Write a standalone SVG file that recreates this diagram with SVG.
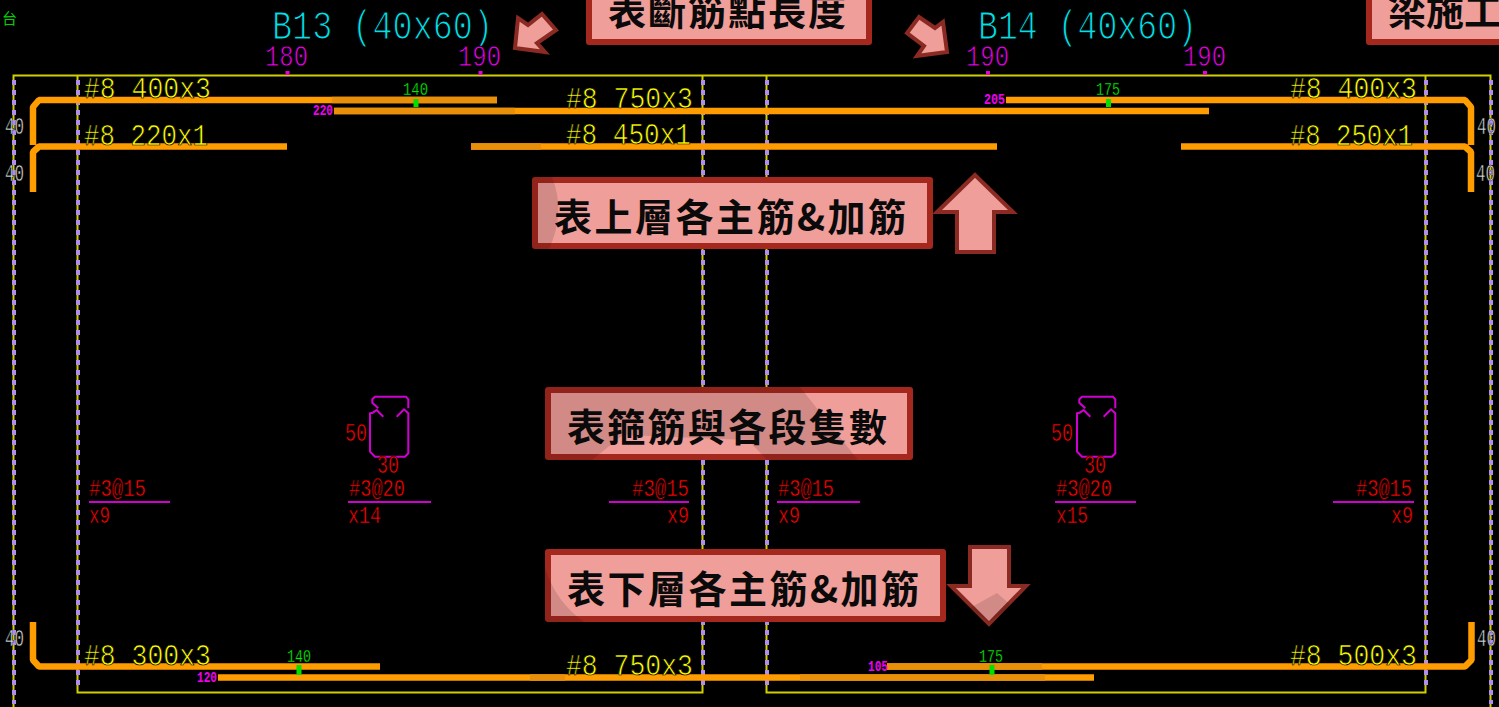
<svg xmlns="http://www.w3.org/2000/svg" width="1499" height="707" viewBox="0 0 1499 707">
<style>
text{font-family:"Liberation Mono","DejaVu Sans Mono",monospace}
.beam{font-size:41px;fill:#00e0e8;stroke:#000;stroke-width:1.200}
.span{font-size:30px;fill:#f000f0;stroke:#000;stroke-width:.8}
.bar{font-size:30px;fill:#ffff00;stroke:#000;stroke-width:.7}
.gn{font-size:18px;fill:#00f000;stroke:#000;stroke-width:.3}
.mg{font-size:15px;fill:#f000f0;font-weight:700}
.gy{font-size:23px;fill:#d8d8d8;stroke:#000;stroke-width:.5}
.rd{font-size:24px;fill:#ff0000;stroke:#000;stroke-width:.5}
.rs{font-size:26px;fill:#ff0000;stroke:#000;stroke-width:.6}
.cj{font-family:"Noto Sans CJK TC","Noto Sans CJK SC",sans-serif;font-weight:700;font-size:38px;fill:#0a0a0a}
.y{stroke:#d0d000;stroke-width:2;fill:none}
.d{stroke:#b28cf0;stroke-width:4;fill:none;stroke-dasharray:5 5}
.r{stroke:#ff9c00;stroke-width:6.500;fill:none;stroke-linejoin:bevel}
.rd2{stroke:#e8900a;stroke-width:6.500;fill:none}
.s{stroke:#d000d0;stroke-width:2;fill:none}
.box{fill:#ef9e99;stroke:#a5281f;stroke-width:6;stroke-linejoin:round}
.ar{fill:#ef9e99;stroke:#8a2a22;stroke-width:4;stroke-linejoin:miter}
.sh{fill:#000;fill-opacity:.12}
.tk{fill:#e000e0}
.gt{fill:#00e000}
</style>
<rect width="1499" height="707" fill="#000"/>
<g id="frame">
<path class="y" d="M13.500 707V75.500H1490.500V707"/>
<path class="y" d="M77.500 76V692.500H702.500V76M766.500 76V692.500H1425.500V76"/>
<path class="d" d="M14 80V704M78 80V690M703 80V690M767 80V690M1426 80V690M1491 80V704"/>
<path class="tk" d="M285.500 71h4v4h-4zM478.500 71h4v4h-4zM986 71h4v4h-4zM1203 71h4v4h-4z"/>
</g>
<g id="connectors">
<path class="r" d="M33 145V107L39 100H497"/>
<path class="r" d="M334 111H1209"/>
<path class="r" d="M33 192V152L39 146.500H287"/>
<path class="r" d="M471 146.500H997"/>
<path class="r" d="M1006 100H1465L1471 107V145"/>
<path class="r" d="M1181 146.500H1465L1471 152V192"/>
<path class="r" d="M33 622V660L39 666.500H380"/>
<path class="r" d="M218 677.500H1094"/>
<path class="r" d="M887 666.500H1465L1471.500 660V622"/>
<path class="rd2" d="M332 100H497M334 111H515M471 146.500H541M530 677.500H565M800 677.500H1045M887 666.500H1042"/>
<path class="gt" d="M413.500 99h5v8h-5zM1106 99h5v8h-5zM296.500 665h5v10h-5zM989.500 665h5v10h-5z"/>
</g>
<g id="labels">
<text x="2" y="24" style="font-family:'Noto Sans CJK TC',sans-serif;font-size:15px;fill:#00d000">台</text>
<text class="beam" lengthAdjust="spacingAndGlyphs" x="272" y="39" textLength="221">B13 (40x60)</text>
<text class="beam" lengthAdjust="spacingAndGlyphs" x="978" y="39" textLength="219">B14 (40x60)</text>
<text class="span" lengthAdjust="spacingAndGlyphs" x="265" y="66" textLength="43">180</text>
<text class="span" lengthAdjust="spacingAndGlyphs" x="458" y="66" textLength="43">190</text>
<text class="span" lengthAdjust="spacingAndGlyphs" x="966" y="66" textLength="43">190</text>
<text class="span" lengthAdjust="spacingAndGlyphs" x="1183" y="66" textLength="43">190</text>
<text class="bar" lengthAdjust="spacingAndGlyphs" x="84" y="98" textLength="127">#8 400x3</text>
<text class="bar" lengthAdjust="spacingAndGlyphs" x="84" y="145" textLength="124">#8 220x1</text>
<text class="bar" lengthAdjust="spacingAndGlyphs" x="566" y="108" textLength="127">#8 750x3</text>
<text class="bar" lengthAdjust="spacingAndGlyphs" x="566" y="144" textLength="125">#8 450x1</text>
<text class="bar" lengthAdjust="spacingAndGlyphs" x="1290" y="98" textLength="127">#8 400x3</text>
<text class="bar" lengthAdjust="spacingAndGlyphs" x="1290" y="145" textLength="123">#8 250x1</text>
<text class="bar" lengthAdjust="spacingAndGlyphs" x="84" y="665" textLength="127">#8 300x3</text>
<text class="bar" lengthAdjust="spacingAndGlyphs" x="566" y="675" textLength="127">#8 750x3</text>
<text class="bar" lengthAdjust="spacingAndGlyphs" x="1290" y="665" textLength="127">#8 500x3</text>
<text class="gn" lengthAdjust="spacingAndGlyphs" x="403" y="95" textLength="25">140</text>
<text class="gn" lengthAdjust="spacingAndGlyphs" x="1096" y="95" textLength="24">175</text>
<text class="gn" lengthAdjust="spacingAndGlyphs" x="287" y="662" textLength="24">140</text>
<text class="gn" lengthAdjust="spacingAndGlyphs" x="979" y="662" textLength="24">175</text>
<text class="mg" lengthAdjust="spacingAndGlyphs" x="313" y="115" textLength="20">220</text>
<text class="mg" lengthAdjust="spacingAndGlyphs" x="984" y="104" textLength="21">205</text>
<text class="mg" lengthAdjust="spacingAndGlyphs" x="197" y="682" textLength="20">120</text>
<text class="mg" lengthAdjust="spacingAndGlyphs" x="868" y="671" textLength="20">105</text>
<text class="gy" lengthAdjust="spacingAndGlyphs" x="5" y="134" textLength="19">40</text>
<text class="gy" lengthAdjust="spacingAndGlyphs" x="5" y="181" textLength="19">40</text>
<text class="gy" lengthAdjust="spacingAndGlyphs" x="1477" y="134" textLength="19">40</text>
<text class="gy" lengthAdjust="spacingAndGlyphs" x="1476" y="181" textLength="19">40</text>
<text class="gy" lengthAdjust="spacingAndGlyphs" x="5" y="646" textLength="19">40</text>
<text class="gy" lengthAdjust="spacingAndGlyphs" x="1477" y="646" textLength="19">40</text>
</g>
<g id="stirrup-b13">
<path class="s" d="M378.300 408.300L372.300 402.700V399.300L375 396.700H406L408.300 399.300V408.300M383.300 416.700L376.700 410L372.700 412.700L370 413.300V451.700L375 456.700H405L408.300 453.300V413.300L404 409.300L396.700 416.700"/>
<text class="rs" lengthAdjust="spacingAndGlyphs" x="345" y="441" textLength="22">50</text>
<text class="rs" lengthAdjust="spacingAndGlyphs" x="377" y="473" textLength="22">30</text>
</g>
<g id="stirrup-b14">
<path class="s" d="M1085.300 408.300L1079.300 402.700V399.300L1082 396.700H1113L1115.300 399.300V408.300M1090.300 416.700L1083.700 410L1079.700 412.700L1077 413.300V451.700L1082 456.700H1112L1115.300 453.300V413.300L1111 409.300L1103.700 416.700"/>
<text class="rs" lengthAdjust="spacingAndGlyphs" x="1051" y="441" textLength="22">50</text>
<text class="rs" lengthAdjust="spacingAndGlyphs" x="1084" y="473" textLength="22">30</text>
</g>
<g id="stirrup-spacing">
<path class="s" d="M89 502H170M348 502H431M609 502H689M777 502H860M1055 502H1136M1333 502H1414"/>
<text class="rd" lengthAdjust="spacingAndGlyphs" x="89" y="496" textLength="57">#3@15</text><text class="rd" lengthAdjust="spacingAndGlyphs" x="89" y="523" textLength="21">x9</text>
<text class="rd" lengthAdjust="spacingAndGlyphs" x="349" y="496" textLength="56">#3@20</text><text class="rd" lengthAdjust="spacingAndGlyphs" x="348" y="523" textLength="33">x14</text>
<text class="rd" lengthAdjust="spacingAndGlyphs" x="632" y="496" textLength="57">#3@15</text><text class="rd" lengthAdjust="spacingAndGlyphs" x="667" y="523" textLength="22">x9</text>
<text class="rd" lengthAdjust="spacingAndGlyphs" x="778" y="496" textLength="56">#3@15</text><text class="rd" lengthAdjust="spacingAndGlyphs" x="778" y="523" textLength="22">x9</text>
<text class="rd" lengthAdjust="spacingAndGlyphs" x="1056" y="496" textLength="56">#3@20</text><text class="rd" lengthAdjust="spacingAndGlyphs" x="1056" y="523" textLength="32">x15</text>
<text class="rd" lengthAdjust="spacingAndGlyphs" x="1356" y="496" textLength="56">#3@15</text><text class="rd" lengthAdjust="spacingAndGlyphs" x="1391" y="523" textLength="22">x9</text>
</g>
<g id="note-cut-length">
<rect class="box" x="589" y="-10" width="280" height="52"/>
<text class="cj" x="608" y="25" textLength="238">表斷筋點長度</text>
</g>
<g id="note-construction">
<rect class="box" x="1369" y="-10" width="150" height="52"/>
<text class="cj" x="1388" y="25">梁施工</text>
</g>
<g id="note-top-bars">
<rect class="box" x="535" y="180" width="395" height="66"/>
<path class="sh" d="M532 177H552Q566 212 549 249H532Z"/>
<text class="cj" x="554" y="231" textLength="352">表上層各主筋&amp;加筋</text>
</g>
<g id="note-stirrups">
<rect class="box" x="548" y="390" width="362" height="67"/>
<path class="sh" d="M545 387H800L858 460H767L748 440L623 435L592 460H545Z"/>
<text class="cj" x="567" y="441" textLength="320">表箍筋與各段隻數</text>
</g>
<g id="note-bottom-bars">
<rect class="box" x="548" y="552" width="395" height="67"/>
<path class="sh" d="M545 568Q556 602 584 622H545Z"/>
<text class="cj" x="567" y="603" textLength="352">表下層各主筋&amp;加筋</text>
</g>
<g id="arrow-left"><path class="ar" d="M515 48L518 18L528 25L542 14L556 30L537 43L545 52Z"/></g>
<g id="arrow-right"><path class="ar" d="M947 52L943 22L935 28L919 17L907 33L924 46L917 56Z"/></g>
<g id="arrow-up"><path class="ar" d="M975 175L937 212H957V252H994V212H1013Z"/></g>
<g id="arrow-down"><path class="ar" d="M970 547H1009V586H1026L989 624L951 586H970Z"/><path class="sh" d="M970 608L997 593L1012 606L989 622Z"/></g>
</svg>
